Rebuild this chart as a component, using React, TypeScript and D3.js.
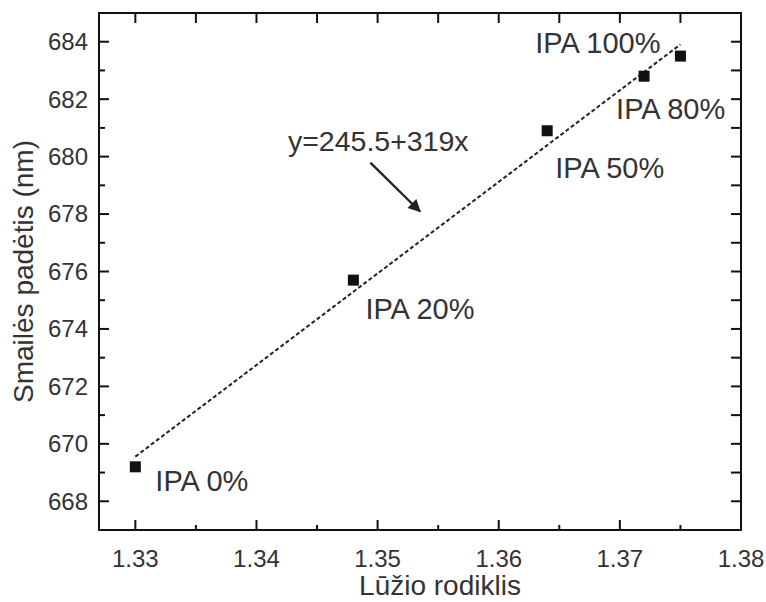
import React from "react";
import * as d3 from "d3";

// refractive index vs. peak position
const refractiveIndex = [1.33, 1.348, 1.364, 1.372, 1.375];
const peakPosition = [669.2, 675.7, 680.9, 682.8, 683.5];
const sampleLabels = ["IPA 0%", "IPA 20%", "IPA 50%", "IPA 80%", "IPA 100%"];

const xMajorTicks = [1.33, 1.34, 1.35, 1.36, 1.37, 1.38];
const yMajorTicks = [668, 670, 672, 674, 676, 678, 680, 682, 684];

const equationText = "y=245.5+319x";
const xTitle = "Lūžio rodiklis";
const yTitle = "Smailės padėtis (nm)";

const W = 766;
const H = 602;
const margin = { top: 13, right: 25, bottom: 72, left: 99 };
const font = "'Liberation Sans', Arial, Helvetica, sans-serif";
const textColor = "#333";

export default function App() {
  const x = d3.scaleLinear().domain([1.327, 1.38]).range([margin.left, W - margin.right]);
  const y = d3.scaleLinear().domain([667, 685]).range([H - margin.bottom, margin.top]);
  const [x0, x1] = x.range();
  const [y0, y1] = y.range(); // y0 bottom, y1 top

  // least squares fit for the dotted line
  const mx = d3.mean(refractiveIndex)!;
  const my = d3.mean(peakPosition)!;
  const sxy = d3.sum(refractiveIndex, (v, i) => (v - mx) * (peakPosition[i] - my));
  const sxx = d3.sum(refractiveIndex, (v) => (v - mx) * (v - mx));
  const slope = sxy / sxx;
  const icpt = my - slope * mx;
  const xExt = d3.extent(refractiveIndex) as [number, number];

  const fitLine = d3.line<number>().x((d) => x(d)).y((d) => y(icpt + slope * d));

  const bottomMinor = d3.range(1.335, 1.38, 0.01);
  const topTicks = d3.range(1.33, 1.3801, 0.005);
  const leftMinor = d3.range(669, 685.1, 2);
  const rightTicks = d3.range(668, 684.1, 1);

  // label offsets (px) from each point
  const labelOffset = [
    { dx: 20, dy: 24, anchor: "start" },
    { dx: 12, dy: 39, anchor: "start" },
    { dx: 8, dy: 47, anchor: "start" },
    { dx: -28, dy: 43, anchor: "start" },
    { dx: -20, dy: -3, anchor: "end" },
  ];

  const sq = 11;

  return (
    <svg width={W} height={H} style={{ position: "absolute", left: 0, top: 0, background: "#fff" }}>
      <defs>
        <marker id="arr" viewBox="0 0 10 10" refX="9" refY="5" markerWidth="7" markerHeight="5.5" orient="auto" markerUnits="strokeWidth">
          <path d="M0,0 L10,5 L0,10 z" fill="#222" />
        </marker>
      </defs>

      {/* ticks */}
      <g stroke="#111" strokeWidth={2}>
        {xMajorTicks.map((t) => (
          <line key={"bx" + t} x1={x(t)} x2={x(t)} y1={y0} y2={y0 - 10} />
        ))}
        {bottomMinor.map((t) => (
          <line key={"bm" + t} x1={x(t)} x2={x(t)} y1={y0} y2={y0 - 5} />
        ))}
        {topTicks.map((t) => (
          <line key={"tx" + t} x1={x(t)} x2={x(t)} y1={y1} y2={y1 + 10} />
        ))}
        {yMajorTicks.map((t) => (
          <line key={"ly" + t} x1={x0} x2={x0 + 10} y1={y(t)} y2={y(t)} />
        ))}
        {leftMinor.map((t) => (
          <line key={"lm" + t} x1={x0} x2={x0 + 6} y1={y(t)} y2={y(t)} />
        ))}
        {rightTicks.map((t) => (
          <line key={"ry" + t} x1={x1} x2={x1 - 10} y1={y(t)} y2={y(t)} />
        ))}
      </g>

      {/* frame */}
      <rect x={x0} y={y1} width={x1 - x0} height={y0 - y1} fill="none" stroke="#111" strokeWidth={2} />

      {/* tick labels */}
      <g fontFamily={font} fontSize={24} fill={textColor}>
        {xMajorTicks.map((t) => (
          <text key={"xl" + t} x={x(t)} y={y0 + 37} textAnchor="middle">
            {d3.format(".2f")(t)}
          </text>
        ))}
        {yMajorTicks.map((t) => (
          <text key={"yl" + t} x={x0 - 11} y={y(t)} dy="0.35em" textAnchor="end">
            {t}
          </text>
        ))}
      </g>

      {/* axis titles */}
      <text x={(x0 + x1) / 2 + 20} y={H - 7} textAnchor="middle" fontFamily={font} fontSize={28} fill={textColor}>
        {xTitle}
      </text>
      <text
        transform={`translate(33,${(y0 + y1) / 2}) rotate(-90)`}
        textAnchor="middle"
        fontFamily={font}
        fontSize={28}
        fill={textColor}
      >
        {yTitle}
      </text>

      {/* fit line */}
      <path d={fitLine(xExt) ?? ""} fill="none" stroke="#222" strokeWidth={2} strokeDasharray="4,2.5" />

      {/* points */}
      {refractiveIndex.map((v, i) => (
        <rect key={"p" + i} x={x(v) - sq / 2} y={y(peakPosition[i]) - sq / 2} width={sq} height={sq} fill="#111" />
      ))}

      {/* labels */}
      <g fontFamily={font} fontSize={29} fill={textColor}>
        {sampleLabels.map((s, i) => (
          <text
            key={s}
            x={x(refractiveIndex[i]) + labelOffset[i].dx}
            y={y(peakPosition[i]) + labelOffset[i].dy}
            textAnchor={labelOffset[i].anchor}
          >
            {s}
          </text>
        ))}
      </g>

      {/* equation + arrow */}
      <text x={x(1.3426)} y={y(680.2)} fontFamily={font} fontSize={28.5} fill={textColor}>
        {equationText}
      </text>
      <line
        x1={x(1.3494)}
        y1={y(679.79)}
        x2={x(1.3535)}
        y2={y(678.09)}
        stroke="#222"
        strokeWidth={2.3}
        markerEnd="url(#arr)"
      />
    </svg>
  );
}
